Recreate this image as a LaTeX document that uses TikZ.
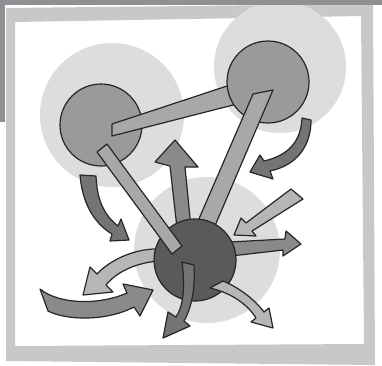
\documentclass[tikz,border=0pt]{standalone}
\definecolor{topc}{HTML}{8E9094}
\definecolor{framec}{HTML}{C8C8C8}
\definecolor{halo}{HTML}{DDDDDD}
\definecolor{midc}{HTML}{9A9A9A}
\definecolor{darkc}{HTML}{5A5A5A}
\definecolor{barc}{HTML}{A8A8A8}
\definecolor{outc}{HTML}{262626}
\definecolor{arrmid}{HTML}{8A8A8A}
\definecolor{arrdark}{HTML}{747474}
\definecolor{arrlight}{HTML}{B6B6B6}
\begin{document}
\begin{tikzpicture}[x=1pt,y=-1pt,
  outl/.style={draw=outc,line width=1.2pt,line join=round},
  barshape/.style={outl,fill=barc},
  hub/.style={outl,fill=midc},
  core/.style={outl,fill=darkc},
  haloshape/.style={fill=halo},
  amid/.style={outl,fill=arrmid},
  adark/.style={outl,fill=arrdark},
  alight/.style={outl,fill=arrlight}]
\useasboundingbox (0,0) rectangle (382,365);
\fill[white] (0,0) rectangle (382,365);
% frame
\fill[framec,even odd rule] (6,8) -- (373,4) -- (375,365) -- (6,361) -- cycle
  (15,22) -- (361,16) -- (364,344) -- (15,346) -- cycle;
% centres
\coordinate (A) at (101,125);
\coordinate (B) at (268,82);
\coordinate (C) at (195,260);
\coordinate (HA) at (112,115);
\coordinate (HB) at (280,67);
\coordinate (HC) at (207,250);
% halos
\fill[haloshape] (HA) circle[radius=72pt];
\fill[haloshape] (HB) circle[radius=66pt];
\fill[haloshape] (HC) circle[radius=73pt];
% hub A and bar to B
\path[hub] (A) circle[radius=41pt];
\path[barshape] (112,124) -- (233,84) -- (237,104) -- (112,136) -- cycle;
% hub B and bar to C
\path[hub] (B) circle[radius=41pt];
\path[barshape] (253,94) -- (273,90) -- (214,228) -- (195,228) -- cycle;
% arrows leaving from under C
\path[amid] (177,228) -- (170,166) -- (155,162) -- (175,140) -- (198,167) -- (185,167) -- (191,228) -- cycle;
\path[amid] (230,242) -- (285,239) -- (286,231) -- (301,244) -- (283,256) -- (283,250) -- (231,256) -- cycle;
\path[alight] (160,249) .. controls (135,248) and (110,260) .. (97,274)
  -- (90,267) -- (83,295) -- (113,292) -- (106,285)
  .. controls (118,270) and (140,262) .. (160,261) -- cycle;
% core C
\path[core] (C) circle[radius=41pt];
% bar A to C
\path[barshape] (97,152) -- (107,144) -- (182,246) -- (172,254) -- cycle;
% arrows out of C
\path[adark] (182,262) .. controls (185,285) and (184,305) .. (176,317)
  -- (168,312) -- (163,338) -- (190,326) -- (184,321)
  .. controls (193,305) and (195,285) .. (194,265) -- cycle;
\path[alight] (223,281) .. controls (240,288) and (255,300) .. (264,312)
  -- (269,308) -- (273,328) -- (251,322) -- (256,318)
  .. controls (248,305) and (232,293) .. (210,288) -- cycle;
% incoming light arrow
\path[alight] (291,189) -- (303,199) -- (252,231) -- (256,236) -- (234,235) -- (241,218) -- (246,223) -- cycle;
% curved dark arrow near B
\path[adark] (311,120) .. controls (311,145) and (298,165) .. (270,171)
  -- (273,179) -- (250,172) -- (260,155) -- (264,161)
  .. controls (290,155) and (301,140) .. (302,118) -- cycle;
% curved dark arrow below A
\path[adark] (80,175) .. controls (82,200) and (92,222) .. (112,234)
  -- (110,241) -- (129,240) -- (121,219) -- (118,226)
  .. controls (104,215) and (97,200) .. (96,176) -- cycle;
% big swoosh arrow bottom left
\path[amid] (40,289) .. controls (60,305) and (100,305) .. (127,293)
  -- (123,284) -- (153,290) -- (140,316) -- (134,307)
  .. controls (105,322) and (65,320) .. (48,311) -- cycle;
% top dark bars
\fill[topc] (0,0) rectangle (382,5);
\fill[topc] (0,0) rectangle (5,122);
\end{tikzpicture}
\end{document}
